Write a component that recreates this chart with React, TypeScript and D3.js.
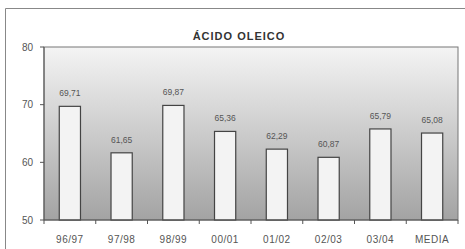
import { useRef, useEffect } from 'react'
import * as d3 from 'd3'

const categories = ['96/97', '97/98', '98/99', '00/01', '01/02', '02/03', '03/04', 'MEDIA']
const values = [69.71, 61.65, 69.87, 65.36, 62.29, 60.87, 65.79, 65.08]
const yTicks = [50, 60, 70, 80]

const W = 465
const H = 249
const margin = { top: 47, right: 7, bottom: 29, left: 44 }

const App = () => {
  const chartRef = useRef<SVGGElement>(null)

  useEffect(() => {
    const innerW = W - margin.left - margin.right
    const innerH = H - margin.top - margin.bottom
    const g = d3.select(chartRef.current)
    g.selectAll('*').remove()

    const x = d3.scaleBand().domain(categories).range([0, innerW]).paddingInner(0.59).paddingOuter(0.295)
    const y = d3.scaleLinear().domain([50, 80]).range([innerH, 0])

    g.append('rect')
      .attr('width', innerW)
      .attr('height', innerH)
      .attr('fill', 'url(#bg)')
      .attr('stroke', '#777')
      .attr('stroke-width', 1)

    g.selectAll('.bar')
      .data(values)
      .enter()
      .append('rect')
      .attr('x', (d, i) => x(categories[i])!)
      .attr('y', d => y(d))
      .attr('width', x.bandwidth())
      .attr('height', d => innerH - y(d))
      .attr('fill', '#f3f3f3')
      .attr('stroke', '#444')
      .attr('stroke-width', 1.2)

    g.selectAll('.val')
      .data(values)
      .enter()
      .append('text')
      .attr('x', (d, i) => x(categories[i])! + x.bandwidth() / 2)
      .attr('y', d => y(d) - 10)
      .attr('text-anchor', 'middle')
      .attr('font-size', 8.5)
      .attr('fill', '#555')
      .text(d => d.toFixed(2).replace('.', ','))

    // y axis
    const yAxis = g.append('g')
    yAxis.append('line').attr('x1', 0).attr('x2', 0).attr('y1', 0).attr('y2', innerH).attr('stroke', '#555')
    yTicks.forEach(t => {
      yAxis.append('line').attr('x1', -4).attr('x2', 0).attr('y1', y(t)).attr('y2', y(t)).attr('stroke', '#555')
      yAxis.append('text')
        .attr('x', -11)
        .attr('y', y(t))
        .attr('dy', '0.35em')
        .attr('text-anchor', 'end')
        .attr('font-size', 10)
        .attr('fill', '#555')
        .text(t)
    })

    // x axis
    const xAxis = g.append('g').attr('transform', `translate(0,${innerH})`)
    xAxis.append('line').attr('x1', 0).attr('x2', innerW).attr('stroke', '#555')
    const step = x.step()
    d3.range(categories.length + 1).forEach(i => {
      xAxis.append('line').attr('x1', i * step).attr('x2', i * step).attr('y1', 0).attr('y2', 4).attr('stroke', '#555')
    })
    categories.forEach(c => {
      xAxis.append('text')
        .attr('x', x(c)! + x.bandwidth() / 2)
        .attr('y', 23)
        .attr('text-anchor', 'middle')
        .attr('font-size', 10)
        .attr('letter-spacing', 0.5)
        .attr('fill', '#555')
        .text(c)
    })
  })

  return (
    <svg width={W} height={H} style={{ position: 'absolute', left: 0, top: 0, fontFamily: 'Liberation Sans, Arial, sans-serif' }}>
      <defs>
        <linearGradient id="bg" x1="0" y1="0" x2="0" y2="1">
          <stop offset="0%" stopColor="#f4f4f4" />
          <stop offset="100%" stopColor="#a3a3a3" />
        </linearGradient>
      </defs>
      <rect x={0} y={0} width={W} height={H} fill="#fff" />
      <path d={`M5.5,${H} V8.5 H${W}`} fill="none" stroke="#888" strokeWidth={1} />
      <text x={239} y={40} textAnchor="middle" fontSize={11} fontWeight="bold" letterSpacing={1} fill="#333">ÁCIDO OLEICO</text>
      <g ref={chartRef} transform={`translate(${margin.left},${margin.top})`}></g>
    </svg>
  )
}

export default App
